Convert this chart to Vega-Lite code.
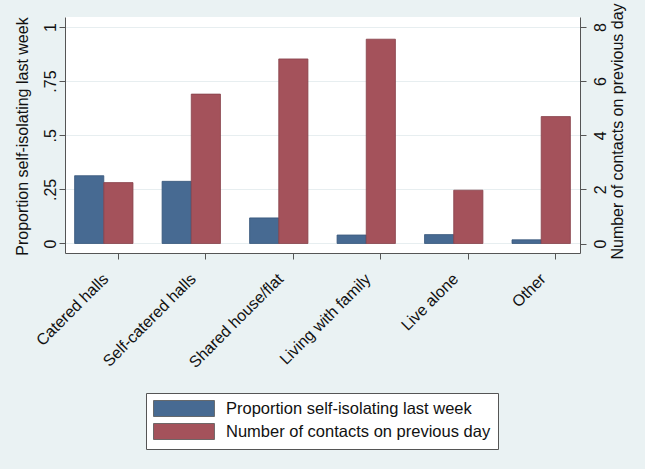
{
  "$schema": "https://vega.github.io/schema/vega-lite/v6.json",
  "width": 515,
  "height": 236,
  "autosize": "none",
  "padding": {"left": 65, "top": 17, "right": 65, "bottom": 216},
  "background": "#eaf2f3",
  "config": {
    "font": "Liberation Sans",
    "view": {"fill": "white", "stroke": null},
    "axis": {"domainColor": "#555555", "tickColor": "#555555", "tickSize": 6, "labelColor": "#111111", "titleColor": "#111111", "labelFontSize": 16, "titleFontSize": 16, "titleFontWeight": "normal", "labelFont": "Liberation Sans", "titleFont": "Liberation Sans"}
  },
  "data": {
    "values": [
      {"category": "Catered halls", "series": "Proportion self-isolating last week", "value": 0.313},
      {"category": "Self-catered halls", "series": "Proportion self-isolating last week", "value": 0.287},
      {"category": "Shared house/flat", "series": "Proportion self-isolating last week", "value": 0.118},
      {"category": "Living with family", "series": "Proportion self-isolating last week", "value": 0.039},
      {"category": "Live alone", "series": "Proportion self-isolating last week", "value": 0.041},
      {"category": "Other", "series": "Proportion self-isolating last week", "value": 0.017},
      {"category": "Catered halls", "series": "Number of contacts on previous day", "value": 2.25},
      {"category": "Self-catered halls", "series": "Number of contacts on previous day", "value": 5.52},
      {"category": "Shared house/flat", "series": "Number of contacts on previous day", "value": 6.82},
      {"category": "Living with family", "series": "Number of contacts on previous day", "value": 7.55},
      {"category": "Live alone", "series": "Number of contacts on previous day", "value": 1.97},
      {"category": "Other", "series": "Number of contacts on previous day", "value": 4.69}
    ]
  },
  "encoding": {
    "x": {
      "field": "category",
      "type": "nominal",
      "sort": null,
      "scale": {"paddingInner": 0.333, "paddingOuter": 0.11},
      "axis": {"title": null, "labelAngle": -45, "labelAlign": "right", "labelBaseline": "middle", "labelPadding": 17, "bandPosition": 0.75, "labelOffset": 2, "domainColor": "#555555"}
    },
    "xOffset": {
      "field": "series",
      "type": "nominal",
      "sort": ["Proportion self-isolating last week", "Number of contacts on previous day"],
      "scale": {"paddingInner": 0, "paddingOuter": 0}
    },
    "color": {
      "field": "series",
      "type": "nominal",
      "sort": ["Proportion self-isolating last week", "Number of contacts on previous day"],
      "scale": {"domain": ["Proportion self-isolating last week", "Number of contacts on previous day"], "range": ["#476a92", "#a4525b"]},
      "legend": {
        "title": null,
        "orient": "none",
        "legendX": 81,
        "legendY": 376,
        "direction": "vertical",
        "symbolType": "M-1,-1H6.62V1H-1Z",
        "symbolSize": 256,
        "symbolStrokeWidth": 0.8,
        "symbolStrokeColor": "#555555",
        "symbolOpacity": 1,
        "labelFontSize": 16.5,
        "labelColor": "#111111",
        "labelOffset": 56,
        "labelLimit": 400,
        "rowPadding": 2,
        "padding": 7,
        "fillColor": "white",
        "strokeColor": "#555555"
      }
    }
  },
  "layer": [
    {
      "transform": [{"filter": "datum.series === 'Proportion self-isolating last week'"}],
      "mark": {"type": "bar", "stroke": "#36567a", "strokeWidth": 0.8},
      "encoding": {
        "y": {
          "field": "value",
          "type": "quantitative",
          "scale": {"domain": [-0.044, 1.046], "nice": false, "zero": false},
          "axis": {
            "orient": "left",
            "title": "Proportion self-isolating last week",
            "values": [0, 0.25, 0.5, 0.75, 1],
            "labelExpr": "datum.value == 0 ? '0' : datum.value == 1 ? '1' : replace(format(datum.value, '.2~f'), '0.', '.')",
            "labelAngle": -90,
            "labelAlign": "center",
            "labelBaseline": "alphabetic",
            "labelPadding": 4,
            "grid": true,
            "gridColor": "#e7eef0",
            "gridWidth": 1,
            "titleAngle": -90,
            "titleX": -38,
            "titleY": 119,
            "titleAlign": "center",
            "titleBaseline": "alphabetic"
          }
        },
        "y2": {"datum": 0}
      }
    },
    {
      "transform": [{"filter": "datum.series === 'Number of contacts on previous day'"}],
      "mark": {"type": "bar", "stroke": "#86414a", "strokeWidth": 0.8},
      "encoding": {
        "y": {
          "field": "value",
          "type": "quantitative",
          "scale": {"domain": [-0.351, 8.37], "nice": false, "zero": false},
          "axis": {
            "orient": "right",
            "title": "Number of contacts on previous day",
            "values": [0, 2, 4, 6, 8],
            "labelAngle": -90,
            "labelAlign": "center",
            "labelBaseline": "top",
            "labelPadding": 6,
            "grid": false,
            "titleAngle": -90,
            "titleX": 42,
            "titleY": 114,
            "titleAlign": "center",
            "titleBaseline": "alphabetic"
          }
        },
        "y2": {"datum": 0}
      }
    }
  ],
  "resolve": {"scale": {"y": "independent"}}
}
